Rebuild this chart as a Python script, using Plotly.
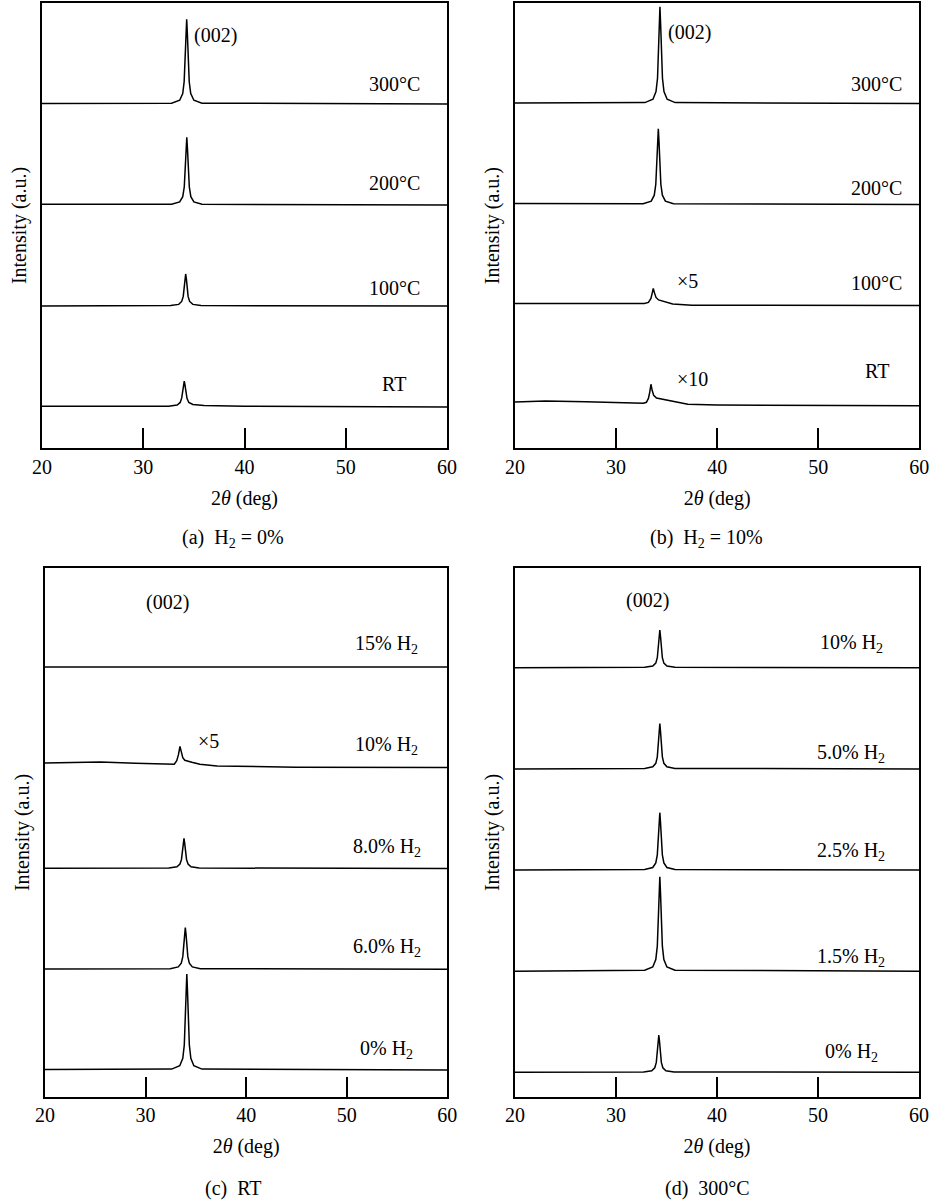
import plotly.graph_objects as go

FONT = "Liberation Serif"

# ---------------- Panel (a): H2 = 0% ----------------
a_names = ["RT", "100°C", "200°C", "300°C"]
a_offsets = [0, 100, 200, 300]
a_x = [
    [20, 32.5, 33.35, 33.65, 33.8, 33.9, 33.98, 34.05, 34.12, 34.2, 34.32, 34.5, 34.9, 36, 40, 60],
    [20, 32.7, 33.5, 33.8, 33.95, 34.05, 34.12, 34.19, 34.26, 34.33, 34.43, 34.58, 34.9, 35.7, 60],
    [20, 32.8, 33.6, 33.9, 34.05, 34.15, 34.23, 34.30, 34.37, 34.45, 34.55, 34.70, 35.0, 35.8, 60],
    [20, 32.8, 33.6, 33.9, 34.04, 34.14, 34.22, 34.29, 34.36, 34.44, 34.54, 34.69, 35.0, 35.8, 60],
]
a_y = [
    [0.8, 0.8, 2, 4.5, 9, 15, 22, 25.7, 22, 15, 8.5, 4.5, 2.5, 1.5, 0.8, 0],
    [0, 0.4, 1.6, 4.5, 9.5, 17, 27, 31.7, 27, 17, 9.5, 4.5, 1.6, 0.4, 0],
    [0.8, 0.7, 3, 8.2, 17.8, 33.5, 55, 67, 55, 33.5, 17.8, 8.2, 3, 0.7, 0],
    [0.5, 0.8, 3.7, 10.3, 22, 42, 69, 84, 69, 42, 22, 10.3, 3.7, 0.8, 0],
]
a_label_x = [54.8, 54.8, 54.8, 54.8]
a_label_y = [23, 117.5, 221.5, 320]

# ---------------- Panel (b): H2 = 10% ----------------
b_names = ["RT", "100°C", "200°C", "300°C"]
b_offsets = [0, 100, 200, 300]
b_x = [
    [20, 23, 27, 30, 32.7, 33.0, 33.2, 33.33, 33.45, 33.57, 33.72, 34.0, 34.6, 35.6, 37.1, 40, 50, 60],
    [20, 28, 32.8, 33.2, 33.45, 33.58, 33.68, 33.8, 33.95, 34.2, 34.8, 35.6, 37.5, 60],
    [20, 32.68, 33.48, 33.78, 33.93, 34.03, 34.11, 34.18, 34.25, 34.33, 34.43, 34.58, 34.88, 35.68, 60],
    [20, 32.85, 33.65, 33.95, 34.1, 34.2, 34.27, 34.34, 34.41, 34.49, 34.59, 34.74, 35.05, 35.85, 60],
]
b_y = [
    [4.5, 5.5, 4.6, 4.0, 3.3, 4.2, 8, 14, 22, 16, 11, 8.3, 7, 4.8, 2.2, 1.5, 1.0, 0.8],
    [2.0, 2.2, 2.0, 3.0, 7, 12.5, 17, 12.5, 8, 5.5, 3.5, 1.5, 0.3, 0],
    [1.0, 0.7, 3.3, 9.2, 20, 37.5, 61.5, 75, 61.5, 37.5, 20, 9.2, 3.3, 0.7, 0],
    [0.5, 0.9, 4.2, 11.8, 25, 48, 78, 95.7, 78, 48, 25, 11.8, 4.2, 0.9, 0],
]
b_label_x = [55.8, 55.8, 55.8, 55.8]
b_label_y = [35, 121.8, 216, 319.3]

# ---------------- Panel (c): RT ----------------
c_names = ["0% H<sub>2</sub>", "6.0% H<sub>2</sub>", "8.0% H<sub>2</sub>", "10% H<sub>2</sub>", "15% H<sub>2</sub>"]
c_offsets = [0, 100, 200, 300, 400]
c_x = [
    [20, 32.6, 33.4, 33.7, 33.85, 33.95, 34.03, 34.1, 34.17, 34.25, 34.35, 34.5, 34.8, 35.6, 60],
    [20, 32.45, 33.25, 33.55, 33.7, 33.8, 33.88, 33.95, 34.02, 34.1, 34.2, 34.35, 34.65, 35.45, 60],
    [20, 32.32, 33.12, 33.42, 33.57, 33.67, 33.75, 33.82, 33.89, 33.97, 34.07, 34.22, 34.52, 35.32, 60],
    [20, 25.5, 29, 32.4, 32.85, 33.1, 33.27, 33.42, 33.55, 33.7, 33.9, 34.1, 34.6, 35.4, 37.1, 45, 60],
    [20, 60],
]
c_y = [
    [0.5, 0.9, 4.2, 11.7, 25, 47.6, 78, 95.3, 78, 47.6, 25, 11.7, 4.2, 0.9, 0],
    [0.3, 0.6, 2.3, 6, 12.5, 22, 35, 41.3, 35, 22, 12.5, 6, 2.3, 0.6, 0],
    [0.3, 0.5, 1.8, 4.4, 9, 16, 25, 30, 25, 16, 9, 4.4, 1.8, 0.5, 0],
    [4.8, 5.8, 4.5, 3.3, 3.5, 7, 13, 21.3, 15, 10, 7.5, 6.8, 5.5, 3.5, 1.8, 0.5, 0.2],
    [0, 0],
]
c_label_x = [54, 54, 54, 54, 54]
c_label_y = [23.1, 125.1, 224.1, 325.6, 425.1]

# ---------------- Panel (d): 300°C ----------------
d_names = ["0% H<sub>2</sub>", "1.5% H<sub>2</sub>", "2.5% H<sub>2</sub>", "5.0% H<sub>2</sub>", "10% H<sub>2</sub>"]
d_offsets = [0, 100, 200, 300, 400]
d_x_peak = [20, 32.84, 33.64, 33.94, 34.09, 34.19, 34.27, 34.34, 34.41, 34.49, 34.59, 34.74, 35.04, 35.84, 60]
d_x = [
    [20, 32.74, 33.54, 33.84, 33.99, 34.09, 34.17, 34.24, 34.31, 34.39, 34.49, 34.64, 34.94, 35.74, 60],
    d_x_peak, d_x_peak, d_x_peak, d_x_peak,
]
d_y = [
    [0, 0.4, 1.6, 4.5, 9.8, 18.5, 30.3, 36.9, 30.3, 18.5, 9.8, 4.5, 1.6, 0.4, 0],
    [0, 0.9, 4.1, 11.5, 24.7, 46.7, 76.5, 93.3, 76.5, 46.7, 24.7, 11.5, 4.1, 0.9, 0],
    [0, 0.56, 2.5, 7, 15, 28.4, 46.5, 56.7, 46.5, 28.4, 15, 7, 2.5, 0.56, 0],
    [0, 0.45, 2, 5.5, 11.9, 22.4, 36.7, 44.8, 36.7, 22.4, 11.9, 5.5, 2, 0.45, 0],
    [0, 0.4, 1.6, 4.6, 9.9, 18.6, 30.6, 37.3, 30.6, 18.6, 9.9, 4.6, 1.6, 0.4, 0],
]
d_label_x = [53.3, 53.3, 53.3, 53.3, 53.3]
d_label_y = [22.7, 116.5, 221.2, 318.4, 427.4]

# extra annotations: (panel, text, x, y)
extra_notes = [
    ("a", "(002)", 37.1, 368),
    ("b", "(002)", 37.26, 370),
    ("b", "×5", 37.06, 124.5),
    ("b", "×10", 37.6, 27.2),
    ("c", "(002)", 32.18, 463.8),
    ("c", "×5", 36.28, 326.6),
    ("d", "(002)", 33.13, 466),
]

captions = [
    ("(a)\u00a0\u00a0H<sub>2</sub> = 0%", 233, 538),
    ("(b)\u00a0\u00a0H<sub>2</sub> = 10%", 706.3, 538),
    ("(c)\u00a0\u00a0RT", 234, 1188),
    ("(d)\u00a0\u00a0300°C", 707, 1188),
]

W, H = 931, 1202
panels = {
    "a": dict(ax="", xd=(42, 447), yd=(3, 448), yr=(-40.6, 400), names=a_names, off=a_offsets,
              xs=a_x, ys=a_y, lx=a_label_x, ly=a_label_y),
    "b": dict(ax="2", xd=(515, 919.3), yd=(3.3, 448), yr=(-41.1, 399.2), names=b_names, off=b_offsets,
              xs=b_x, ys=b_y, lx=b_label_x, ly=b_label_y),
    "c": dict(ax="3", xd=(45, 447.3), yd=(568.3, 1096.7), yr=(-26.5, 498), names=c_names, off=c_offsets,
              xs=c_x, ys=c_y, lx=c_label_x, ly=c_label_y),
    "d": dict(ax="4", xd=(515, 919), yd=(568.3, 1096.7), yr=(-24.1, 498.3), names=d_names, off=d_offsets,
              xs=d_x, ys=d_y, lx=d_label_x, ly=d_label_y),
}

fig = go.Figure()
annotations = []
layout_axes = {}
for key, p in panels.items():
    ax = p["ax"]
    xref, yref = "x" + ax, "y" + ax
    for xs, ys, off in zip(p["xs"], p["ys"], p["off"]):
        fig.add_trace(go.Scatter(
            x=xs, y=[v + off for v in ys], mode="lines",
            line=dict(color="black", width=1.5), xaxis=xref, yaxis=yref,
            showlegend=False, hoverinfo="skip"))
    for name, lx, ly, off in zip(p["names"], p["lx"], p["ly"], p["off"]):
        sub = "<sub>" in name
        annotations.append(dict(text=name, x=lx, y=ly - (3 if sub else 0), xref=xref, yref=yref,
                                showarrow=False, xanchor="center", yanchor="middle",
                                font=dict(family=FONT, size=20, color="black")))
    for (pk, txt, nx, ny) in extra_notes:
        if pk == key:
            annotations.append(dict(text=txt, x=nx, y=ny, xref=xref, yref=yref, showarrow=False,
                                    xanchor="center", yanchor="middle",
                                    font=dict(family=FONT, size=20, color="black")))
    x0, x1 = p["xd"]
    y0, y1 = p["yd"]
    layout_axes["xaxis" + ax] = dict(
        domain=[x0 / W, x1 / W], anchor=yref, range=[20, 60],
        tickvals=[20, 30, 40, 50, 60], ticks="inside", ticklen=20, tickwidth=1.5, tickcolor="black",
        showline=True, linecolor="black", linewidth=1.5, mirror=True,
        showgrid=False, zeroline=False, automargin=False,
        tickfont=dict(family=FONT, size=20, color="black"),
        title=dict(text="2<i>θ</i> (deg)", font=dict(family=FONT, size=20, color="black"), standoff=14),
    )
    layout_axes["yaxis" + ax] = dict(
        domain=[1 - y1 / H, 1 - y0 / H], anchor=xref, range=list(p["yr"]),
        showticklabels=False, ticks="", showline=True, linecolor="black", linewidth=1.5, mirror=True,
        showgrid=False, zeroline=False, automargin=False,
        title=dict(text="Intensity (a.u.)", font=dict(family=FONT, size=20, color="black"), standoff=8),
    )

for txt, cx, cy in captions:
    annotations.append(dict(text=txt, x=cx / W, y=1 - cy / H, xref="paper", yref="paper",
                            showarrow=False, xanchor="center", yanchor="middle",
                            font=dict(family=FONT, size=20, color="black")))

fig.update_layout(
    width=W, height=H, autosize=False, margin=dict(l=0, r=0, t=0, b=0, pad=0),
    paper_bgcolor="white", plot_bgcolor="white",
    annotations=annotations, showlegend=False,
    **layout_axes,
)

fig.write_html(
    "out.html",
    config={"responsive": False, "displayModeBar": False},
    post_script="document.body.style.margin='0';document.body.style.overflow='hidden';",
)
